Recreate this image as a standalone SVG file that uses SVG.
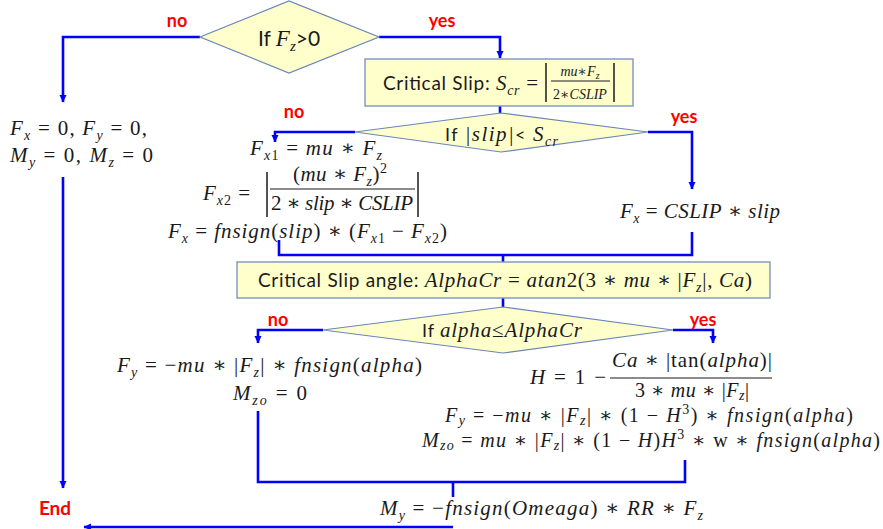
<svg xmlns="http://www.w3.org/2000/svg" width="883" height="529" viewBox="0 0 883 529">
<style>
.dia{fill:#ffffcc;stroke:#6a86b8;stroke-width:1.2}
.box{fill:#ffffcc;stroke:#7f95c2;stroke-width:1.4}
.con{fill:none;stroke:#0000ff;stroke-width:2.6}
.lab{font-family:Lato,"Liberation Sans",sans-serif;font-weight:bold;font-size:18px;fill:#ff0000;text-anchor:middle}
.t{font-family:Lato,"Liberation Sans",sans-serif;font-size:19px;fill:#1a1a1a}
.m{font-family:"Liberation Serif","DejaVu Serif",serif;font-style:italic;font-size:21px;fill:#1a1a1a}
.m2{font-size:20px}
.r{font-style:normal}
.s{font-size:14px}
.sm{font-family:"Liberation Serif","DejaVu Serif",serif;font-style:italic;font-size:14px;fill:#1a1a1a;text-anchor:middle}
.bar{stroke:#1a1a1a;stroke-width:1.5}
.mid{text-anchor:middle}
</style>
<defs>
<marker id="ah" markerUnits="userSpaceOnUse" markerWidth="8" markerHeight="8" refX="7" refY="4" orient="auto">
<path d="M0,0.5 L7.5,4 L0,7.5 z" fill="#0000ff"/>
</marker>
</defs>

<g id="connectors">
<path class="con" d="M200,37 H63 V102" marker-end="url(#ah)"/>
<path class="con" d="M379,37 H500 V58" marker-end="url(#ah)"/>
<path class="con" d="M500,106 V113"/>
<path class="con" d="M355,132 H275 V142" marker-end="url(#ah)"/>
<path class="con" d="M648,132 H692 V189" marker-end="url(#ah)"/>
<path class="con" d="M63,177 V488" marker-end="url(#ah)"/>
<path class="con" d="M279,240 V255 H692 V232"/>
<path class="con" d="M503,255 V262"/>
<path class="con" d="M503,298 V307"/>
<path class="con" d="M323,330 H258 V343" marker-end="url(#ah)"/>
<path class="con" d="M673,330 H713 V343" marker-end="url(#ah)"/>
<path class="con" d="M258,411 V482 H685 V460"/>
<path class="con" d="M453,482 V497"/>
<path class="con" d="M453,527 H84" marker-end="url(#ah)"/>
</g>

<g id="labels">
<text class="lab" x="177" y="27">no</text>
<text class="lab" x="442" y="27">yes</text>
<text class="lab" x="294" y="118">no</text>
<text class="lab" x="684" y="123">yes</text>
<text class="lab" x="278" y="326">no</text>
<text class="lab" x="703" y="326">yes</text>
</g>

<g id="cond-fz">
<polygon class="dia" points="200,37 289,1 379,37 289,73"/>
<text class="t mid" x="289" y="46" style="font-size:21px">If <tspan class="m" style="font-size:23px">F</tspan><tspan class="m s" dy="5" style="font-size:15px">z</tspan><tspan dy="-5">&gt;0</tspan></text>
</g>

<g id="critical-slip">
<rect class="box" x="365" y="59" width="268" height="47"/>
<text class="t" x="383" y="90" textLength="155">Critical Slip: <tspan class="m">S</tspan><tspan class="m s" dy="5">cr</tspan><tspan class="m r" dy="-5"> = </tspan></text>
<line class="bar" x1="546" y1="63" x2="546" y2="102"/>
<line class="bar" x1="614" y1="63" x2="614" y2="102"/>
<text class="sm" x="580" y="76">mu∗F<tspan font-size="10" dy="3">z</tspan></text>
<line class="bar" x1="551" y1="81" x2="610" y2="81" style="stroke-width:1"/>
<text class="sm" x="580" y="99"><tspan class="r">2</tspan>∗CSLIP</text>
</g>

<g id="cond-slip">
<polygon class="dia" points="355,132 501,113 648,132 501,152"/>
<text class="t" x="445" y="141" style="font-size:18px" textLength="113">If  <tspan class="m">|slip|</tspan>&lt; <tspan class="m">S</tspan><tspan class="m s" dy="5">cr</tspan></text>
</g>

<g id="zero-forces">
<text class="m" x="10" y="135" textLength="137">F<tspan class="s" dy="5">x</tspan><tspan class="r" dy="-5"> = 0, </tspan>F<tspan class="s" dy="5">y</tspan><tspan class="r" dy="-5"> = 0,</tspan></text>
<text class="m" x="10" y="162" textLength="143">M<tspan class="s" dy="5">y</tspan><tspan class="r" dy="-5"> = 0, </tspan>M<tspan class="s" dy="5">z</tspan><tspan class="r" dy="-5"> = 0</tspan></text>
</g>

<g id="sliding-fx">
<text class="m" x="250" y="155" textLength="132">F<tspan class="s" dy="5">x<tspan class="r">1</tspan></tspan><tspan class="r" dy="-5"> = </tspan>mu<tspan class="r"> ∗ </tspan>F<tspan class="s" dy="5">z</tspan></text>
<text class="m" x="203" y="200" textLength="47">F<tspan class="s" dy="5">x<tspan class="r">2</tspan></tspan><tspan class="r" dy="-5"> =</tspan></text>
<line class="bar" x1="267" y1="172" x2="267" y2="217"/>
<line class="bar" x1="418" y1="172" x2="418" y2="217"/>
<text class="m" x="293" y="181" textLength="94"><tspan class="r">(</tspan>mu<tspan class="r"> ∗ </tspan>F<tspan class="s" dy="5">z</tspan><tspan class="r" dy="-5">)</tspan><tspan class="r s" dy="-8">2</tspan></text>
<line class="bar" x1="270" y1="189" x2="415" y2="189" style="stroke-width:1.2"/>
<text class="m" x="271" y="210" textLength="142"><tspan class="r">2 ∗ </tspan>slip<tspan class="r"> ∗ </tspan>CSLIP</text>
<text class="m" x="168" y="238" textLength="279">F<tspan class="s" dy="5">x</tspan><tspan class="r" dy="-5"> = </tspan>fnsign<tspan class="r">(</tspan>slip<tspan class="r">) ∗ (</tspan>F<tspan class="s" dy="5">x<tspan class="r">1</tspan></tspan><tspan class="r" dy="-5"> − </tspan>F<tspan class="s" dy="5">x<tspan class="r">2</tspan></tspan><tspan class="r" dy="-5">)</tspan></text>
</g>

<g id="linear-fx">
<text class="m" x="620" y="218" textLength="160">F<tspan class="s" dy="5">x</tspan><tspan class="r" dy="-5"> = </tspan>CSLIP<tspan class="r"> ∗ </tspan>slip</text>
</g>

<g id="critical-angle">
<rect class="box" x="237" y="262" width="533" height="36"/>
<text class="t" x="258" y="287" textLength="494">Critical Slip angle: <tspan class="m">AlphaCr</tspan><tspan class="m r"> = </tspan><tspan class="m">atan</tspan><tspan class="m r">2(3 ∗ </tspan><tspan class="m">mu</tspan><tspan class="m r"> ∗ |</tspan><tspan class="m">F</tspan><tspan class="m s" dy="5">z</tspan><tspan class="m r" dy="-5">|, </tspan><tspan class="m">Ca</tspan><tspan class="m r">)</tspan></text>
</g>

<g id="cond-alpha">
<polygon class="dia" points="323,330 503,307 673,330 503,353"/>
<text class="t" x="422" y="337" style="font-size:18px" textLength="160">If <tspan class="m">alpha<tspan class="r">≤</tspan>AlphaCr</tspan></text>
</g>

<g id="sliding-fy">
<text class="m" x="117" y="372" textLength="305">F<tspan class="s" dy="5">y</tspan><tspan class="r" dy="-5"> = −</tspan>mu<tspan class="r"> ∗ |</tspan>F<tspan class="s" dy="5">z</tspan><tspan class="r" dy="-5">| ∗ </tspan>fnsign<tspan class="r">(</tspan>alpha<tspan class="r">)</tspan></text>
<text class="m" x="233" y="400" textLength="74">M<tspan class="s" dy="5">zo</tspan><tspan class="r" dy="-5"> = 0</tspan></text>
</g>

<g id="brush-fy">
<text class="m" x="530" y="384" textLength="76">H<tspan class="r"> = 1 − </tspan></text>
<text class="m" x="612" y="367" textLength="160">Ca<tspan class="r"> ∗ |tan(</tspan>alpha<tspan class="r">)|</tspan></text>
<line class="bar" x1="610" y1="378" x2="772" y2="378" style="stroke-width:1.2"/>
<text class="m m2" x="635" y="397" textLength="114"><tspan class="r">3 ∗ </tspan>mu<tspan class="r"> ∗ |</tspan>F<tspan class="s" dy="3">z</tspan><tspan class="r" dy="-3">|</tspan></text>
<text class="m m2" x="445" y="422" textLength="408">F<tspan class="s" dy="3">y</tspan><tspan class="r" dy="-3"> = −</tspan>mu<tspan class="r"> ∗ |</tspan>F<tspan class="s" dy="3">z</tspan><tspan class="r" dy="-3">| ∗ (1 − </tspan>H<tspan class="r s" dy="-8">3</tspan><tspan class="r" dy="8">) ∗ </tspan>fnsign<tspan class="r">(</tspan>alpha<tspan class="r">)</tspan></text>
<text class="m m2" x="422" y="447" textLength="458">M<tspan class="s" dy="3">zo</tspan><tspan class="r" dy="-3"> = </tspan>mu<tspan class="r"> ∗ |</tspan>F<tspan class="s" dy="3">z</tspan><tspan class="r" dy="-3">| ∗ (1 − </tspan>H<tspan class="r">)</tspan>H<tspan class="r s" dy="-8">3</tspan><tspan class="r" dy="8"> ∗ w ∗ </tspan>fnsign<tspan class="r">(</tspan>alpha<tspan class="r">)</tspan></text>
</g>

<g id="rolling-moment">
<text class="m" x="380" y="515" textLength="323">M<tspan class="s" dy="5">y</tspan><tspan class="r" dy="-5"> = −</tspan>fnsign<tspan class="r">(</tspan>Omeaga<tspan class="r">) ∗ </tspan>RR<tspan class="r"> ∗ </tspan>F<tspan class="s" dy="5">z</tspan></text>
</g>

<g id="end">
<text class="lab" x="55" y="515" style="font-size:19px">End</text>
</g>
</svg>
